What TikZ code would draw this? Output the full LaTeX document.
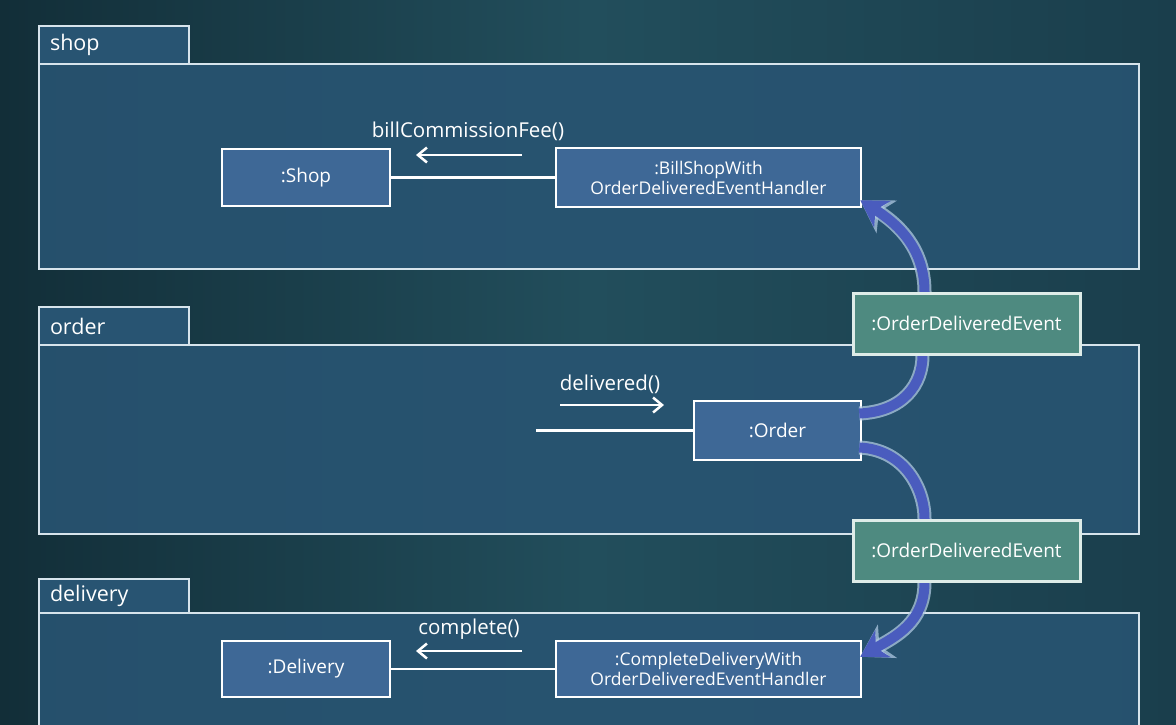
\documentclass[tikz,border=0pt]{standalone}
\usepackage{fontspec}
\setmainfont{Open Sans}
\usetikzlibrary{arrows.meta,calc}
\pgfdeclarelayer{front}
\pgfsetlayers{main,front}
\definecolor{bgdark}{RGB}{18,46,56}
\definecolor{bgmid}{RGB}{34,78,92}
\definecolor{bgright}{RGB}{26,62,76}
\definecolor{pkgfill}{RGB}{40,84,114}
\definecolor{pkgline}{RGB}{215,228,236}
\definecolor{objfill}{RGB}{62,104,150}
\definecolor{evfill}{RGB}{78,138,128}
\definecolor{evline}{RGB}{222,236,232}
\definecolor{arrblue}{RGB}{74,92,190}
\definecolor{arrglow}{RGB}{175,200,225}
\begin{document}
\begin{tikzpicture}[x=1pt,y=-1pt,
  pkgtab/.style={draw=pkgline,line width=2pt,fill=pkgfill,anchor=north west,
    minimum height=38pt,text width=128pt,inner xsep=11pt,inner ysep=0pt,align=left,
    text=white,font=\fontsize{21.5}{24}\selectfont},
  pkgbody/.style={draw=pkgline,line width=2pt,fill=pkgfill,fill opacity=0.9,draw opacity=1,anchor=north west,inner sep=0pt},
  objbox/.style={draw=white,line width=2.5pt,fill=objfill,text=white,inner sep=0pt,align=center},
  objfont/.style={font=\fontsize{19}{22}\selectfont},
  hfont/.style={font=\fontsize{17.5}{20}\selectfont},
  evbox/.style={draw=evline,line width=3pt,fill=evfill,text=white,inner sep=0pt,
    minimum width=227pt,minimum height=61pt,font=\fontsize{19}{22}\selectfont},
  msglabel/.style={text=white,inner sep=0pt,font=\fontsize{20.5}{24}\selectfont},
  msgarrow/.style={draw=white,line width=2.5pt,-{Straight Barb[length=9pt,width=15pt]}},
  link/.style={draw=white,line width=2.5pt},
  evglow/.style={draw=arrglow,draw opacity=0.75,line width=14pt,
    -{Stealth[length=31pt,width=38pt,inset=9pt]}},
  evarrow/.style={draw=arrblue,line width=10pt,
    -{Stealth[length=26pt,width=31pt,inset=8pt]}}]
\clip (0,0) rectangle (1176,724);
\shade[left color=bgdark,right color=bgright,middle color=bgmid] (0,0) rectangle (1176,724);

% packages
\node[pkgbody,minimum width=1100pt,minimum height=205pt] (shoppkg) at (38,63) {};
\node[pkgtab] (shoptab) at (38,25) {shop};
\node[pkgbody,minimum width=1100pt,minimum height=189pt] (orderpkg) at (38,344) {};
\node[pkgtab] (ordertab) at (38,306) {order};
\node[pkgbody,minimum width=1100pt,minimum height=160pt] (deliverypkg) at (38,612) {};
\node[pkgtab,minimum height=34pt] (deliverytab) at (38,578) {delivery};

% objects
\node[objbox,objfont,minimum width=168pt,minimum height=57pt] (shop) at (306,177.5) {:Shop};
\node[objbox,hfont,minimum width=305pt,minimum height=59pt] (bill) at (708.5,177.5) {:BillShopWith\\OrderDeliveredEventHandler};
\node[objbox,objfont,minimum width=167pt,minimum height=59pt] (order) at (777.5,430.5) {:Order};
\node[objbox,objfont,minimum width=168pt,minimum height=56pt] (delivery) at (306,669) {:Delivery};
\node[objbox,hfont,minimum width=305pt,minimum height=56pt] (complete) at (708.5,669) {:CompleteDeliveryWith\\OrderDeliveredEventHandler};

% links and messages
\draw[link] (shop.east) -- (bill.west);
\coordinate (orderin) at ($(order.west)+(-157,0)$);
\draw[link] (orderin) -- (order.west);
\draw[link] (delivery.east) -- (complete.west);

\node[msglabel] (m1) at (468,131) {billCommissionFee()};
\coordinate (m1s) at (522,155); \coordinate (m1e) at (416,155);
\draw[msgarrow] (m1s) -- (m1e);
\node[msglabel] (m2) at (610,384) {delivered()};
\coordinate (m2s) at (560,405); \coordinate (m2e) at (664,405);
\draw[msgarrow] (m2s) -- (m2e);
\node[msglabel] (m3) at (469,629) {complete()};
\coordinate (m3s) at (522,651); \coordinate (m3e) at (416,651);
\draw[msgarrow] (m3s) -- (m3e);

% events (front layer)
\begin{pgfonlayer}{front}
\node[evbox] (ev1) at (966.5,323.5) {:OrderDeliveredEvent};
\node[evbox] (ev2) at (966.5,550.5) {:OrderDeliveredEvent};
\end{pgfonlayer}

% event flow arrows
\coordinate (a1s) at ($(order.east)+(-3,-17)$);
\coordinate (e1b) at ($(ev1.south)+(-44,0)$);
\coordinate (e1t) at ($(ev1.north)+(-42,0)$);
\coordinate (tip1) at ($(bill.south east)+(-2,-8)$);
\coordinate (a2s) at ($(order.east)+(-3,17)$);
\coordinate (e2t) at ($(ev2.north)+(-42,0)$);
\coordinate (e2b) at ($(ev2.south)+(-42,0)$);
\coordinate (tip2) at ($(complete.north east)+(-2,17)$);
\foreach \s in {evglow,evarrow}{
  \draw[\s] (a1s) .. controls +(45,-2) and +(0,28) .. (e1b) -- (e1t)
    .. controls +(0,-45) and +(35,22) .. (tip1);
  \draw[\s] (a2s) .. controls +(45,2) and +(0,-30) .. (e2t) -- (e2b)
    .. controls +(0,40) and +(35,-20) .. (tip2);
}
\end{tikzpicture}
\end{document}
